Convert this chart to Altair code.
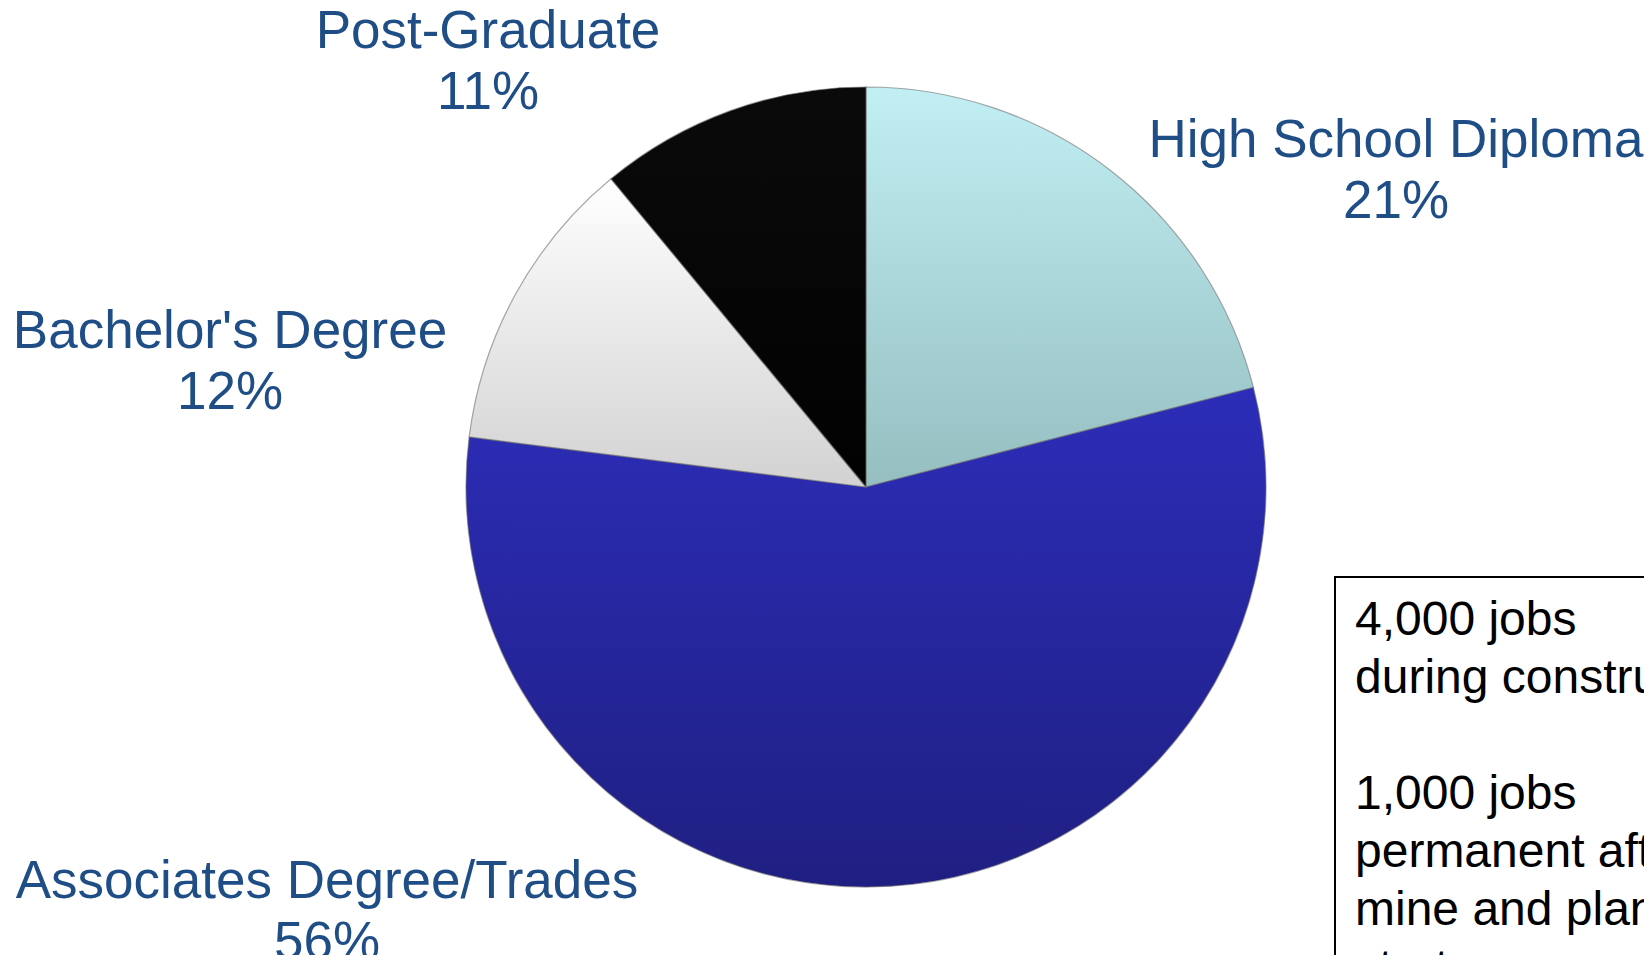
import math
import altair as alt
import pandas as pd

# ---- data ----
categories = ["High School Diploma", "Associates Degree/Trades", "Bachelor's Degree", "Post-Graduate"]
shares = [21, 56, 12, 11]
box_block1 = ["4,000 jobs", "during construction"]
box_block2 = ["1,000 jobs", "permanent after", "mine and plant", "start up"]

ends = []
acc = 0
for v in shares:
    acc += v
    ends.append(acc)
starts = [e - v for e, v in zip(ends, shares)]
df = pd.DataFrame({"cat": categories, "share": shares, "start": starts, "end": ends})

# ---- layout / style ----
W, H = 1636, 947
CX, CY, R = 858, 479, 400
LABEL_COLOR = "#1F4E86"
FONT = "Liberation Sans"
BOX_LH = 58

fills = {
    "High School Diploma": ["#c1eff3", "#95bec0"],
    "Associates Degree/Trades": ["#2c2db8", "#1f1f82"],
    "Bachelor's Degree": ["#ffffff", "#d2d2d2"],
    "Post-Graduate": ["#0a0a0a", "#020202"],
}
label_pos = {
    "Post-Graduate": (480, 40),
    "High School Diploma": (1388, 149),
    "Bachelor's Degree": (222, 340),
    "Associates Degree/Trades": (319, 890),
}

theta_scale = alt.Scale(domain=[0, 100], range=[0, 2 * math.pi])

layers = []
for cat in categories:
    top, bot = fills[cat]
    grad = alt.Gradient(
        gradient="linear", x1=0, y1=0, x2=0, y2=1,
        stops=[alt.GradientStop(color=top, offset=0), alt.GradientStop(color=bot, offset=1)],
    )
    arc = alt.Chart(df).transform_filter(alt.datum.cat == cat).mark_arc(
        outerRadius=R, fill=grad, stroke="#6f6f6f", strokeWidth=1.2, strokeOpacity=0.6
    ).encode(
        theta=alt.Theta("start:Q", scale=theta_scale),
        theta2="end:Q",
        x=alt.value(CX),
        y=alt.value(CY),
    )
    layers.append(arc)

for cat, v in zip(categories, shares):
    lx, ly = label_pos[cat]
    txt = alt.Chart(df).transform_filter(alt.datum.cat == cat).mark_text(
        font=FONT, fontSize=53, color=LABEL_COLOR, align="center",
        baseline="alphabetic", lineHeight=61,
    ).encode(
        x=alt.value(lx), y=alt.value(ly),
        text=alt.value([cat, f"{v}%"]),
    )
    layers.append(txt)

one_row = alt.Chart(df).transform_filter(alt.datum.cat == categories[0])

box = one_row.mark_rect(
    fill="white", stroke="black", strokeWidth=2, clip=True
).encode(x=alt.value(1327), x2=alt.value(1760), y=alt.value(569), y2=alt.value(1100))
layers.append(box)

for lines, y0 in [(box_block1, 627), (box_block2, 627 + 3 * BOX_LH)]:
    t = one_row.mark_text(
        font=FONT, fontSize=48, color="black", align="left", baseline="alphabetic",
        lineHeight=BOX_LH, clip=True,
    ).encode(x=alt.value(1347), y=alt.value(y0), text=alt.value(lines))
    layers.append(t)

chart = alt.layer(*layers).properties(
    width=W, height=H, autosize=alt.AutoSizeParams(type="none"), padding=0,
    background="white",
).configure_view(stroke=None)

chart.save("out.html", embed_options={"renderer": "svg", "actions": False})
